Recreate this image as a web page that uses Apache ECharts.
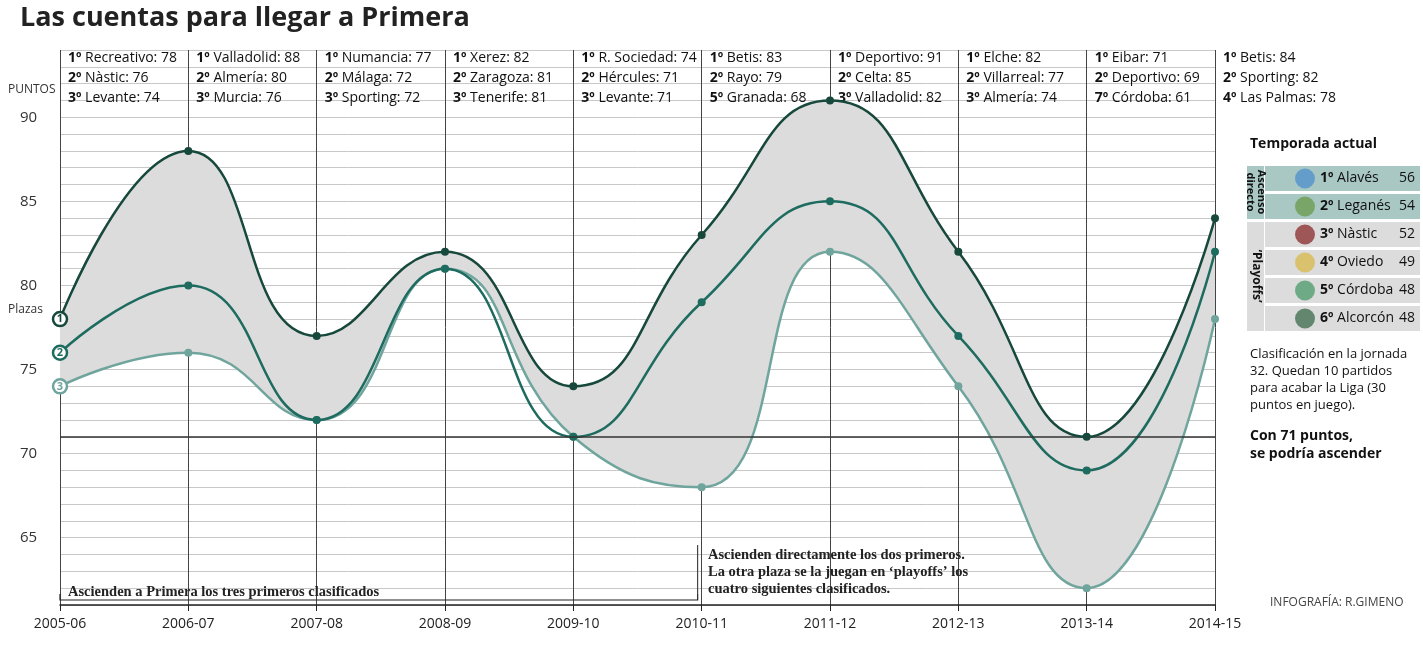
<!DOCTYPE html>
<html><head><meta charset="utf-8">
<script src="https://cdn.jsdelivr.net/npm/echarts@6/dist/echarts.min.js"></script>
<style>body{margin:0;background:#fff}#chart{width:1423px;height:658px}</style>
</head><body><div id="chart"></div>
<script>
var seasons = ['2005-06','2006-07','2007-08','2008-09','2009-10','2010-11','2011-12','2012-13','2013-14','2014-15'];
var first = [78,88,77,82,74,83,91,82,71,84];
var second = [76,80,72,81,71,79,85,77,69,82];
var third = [74,76,72,81,71,68,82,74,62,78];
var topLabels = [
  ['1º Recreativo: 78','2º Nàstic: 76','3º Levante: 74'],
  ['1º Valladolid: 88','2º Almería: 80','3º Murcia: 76'],
  ['1º Numancia: 77','2º Málaga: 72','3º Sporting: 72'],
  ['1º Xerez: 82','2º Zaragoza: 81','3º Tenerife: 81'],
  ['1º R. Sociedad: 74','2º Hércules: 71','3º Levante: 71'],
  ['1º Betis: 83','2º Rayo: 79','5º Granada: 68'],
  ['1º Deportivo: 91','2º Celta: 85','3º Valladolid: 82'],
  ['1º Elche: 82','2º Villarreal: 77','3º Almería: 74'],
  ['1º Eibar: 71','2º Deportivo: 69','7º Córdoba: 61'],
  ['1º Betis: 84','2º Sporting: 82','4º Las Palmas: 78']
];
var standTeams = ['Alavés','Leganés','Nàstic','Oviedo','Córdoba','Alcorcón'];
var standPts = [56,54,52,49,48,48];
var threshold = 71;

var diff = first.map(function (v, i) { return v - third[i]; });
var F = '"Open Sans", sans-serif';
var chart = echarts.init(document.getElementById('chart'));
chart.setOption({
  animation: false,
  grid: {left: 60, right: 208, top: 50, bottom: 53},
  xAxis: {
    type: 'category', data: seasons, boundaryGap: false,
    axisLine: {lineStyle: {color: '#222', width: 1.5}}, axisTick: {show: true, length: 6, lineStyle: {color: '#222'}},
    axisLabel: {color: '#222', fontSize: 14, fontFamily: F, margin: 12},
    splitLine: {show: true, lineStyle: {color: '#444', width: 1}}
  },
  yAxis: {
    type: 'value', min: 61, max: 94, interval: 1,
    axisLine: {show: false}, axisTick: {show: false},
    axisLabel: {color: '#333', fontSize: 15, fontFamily: F, margin: 40, align: 'left',
      formatter: function (v) { return (v % 5 === 0 && v < 91) ? v : ''; }},
    splitLine: {lineStyle: {color: '#c8c8c8', width: 1}}
  },
  series: [
    {type: 'line', data: third, stack: 'a', smooth: 0.5, symbol: 'none', lineStyle: {opacity: 0}, z: 1},
    {type: 'line', data: diff, stack: 'a', smooth: 0.5, symbol: 'none', lineStyle: {opacity: 0},
      areaStyle: {color: '#dcdcdc', opacity: 1}, z: 1},
    {type: 'line', data: third, smooth: 0.5, symbol: 'circle', symbolSize: 8,
      itemStyle: {color: '#6fa59d'}, lineStyle: {color: '#6fa59d', width: 2.5}, z: 3},
    {type: 'line', data: second, smooth: 0.5, symbol: 'circle', symbolSize: 8,
      itemStyle: {color: '#1e6b60'}, lineStyle: {color: '#1e6b60', width: 2.5}, z: 4},
    {type: 'line', data: first, smooth: 0.5, symbol: 'circle', symbolSize: 8,
      itemStyle: {color: '#17483c'}, lineStyle: {color: '#17483c', width: 2.5}, z: 5,
      markLine: {silent: true, symbol: 'none', label: {show: false},
        lineStyle: {color: '#333', width: 1.5, type: 'solid'}, data: [{yAxis: threshold}]}}
  ]
});

var g = [];
g.push({type: 'text', left: 20, top: 5, style: {text: 'Las cuentas para llegar a Primera', font: 'bold 27px ' + F, fill: '#222'}});
g.push({type: 'text', left: 8, top: 84, style: {text: 'PUNTOS', font: '12px ' + F, fill: '#333'}});
seasons.forEach(function (s, i) {
  var p = chart.convertToPixel({xAxisIndex: 0, yAxisIndex: 0}, [i, 90]);
  topLabels[i].forEach(function (t, j) {
    g.push({type: 'text', x: p[0] + 8, y: 51 + j * 20, style: {
      text: '{b|' + t.slice(0, 2) + '} ' + t.slice(3),
      rich: {b: {font: 'bold 14px ' + F, fill: '#111'}}, font: '14px ' + F, fill: '#111'}});
  });
});
[[first, '1', '#17483c'], [second, '2', '#1e6b60'], [third, '3', '#6fa59d']].forEach(function (a) {
  var p = chart.convertToPixel({xAxisIndex: 0, yAxisIndex: 0}, [0, a[0][0]]);
  g.push({type: 'circle', shape: {cx: p[0], cy: p[1], r: 7}, style: {fill: '#fff', stroke: a[2], lineWidth: 2.5}, z: 20});
  g.push({type: 'text', x: p[0], y: p[1], style: {text: a[1], font: 'bold 11px ' + F, fill: a[2], align: 'center', verticalAlign: 'middle'}, z: 21});
});
g.push({type: 'text', x: 8, y: 304, style: {text: 'Plazas', font: '12px ' + F, fill: '#333'}});
g.push({type: 'text', x: 118, y: 236, style: {text: 'ZONA\nDE ASCENSO', font: 'bold 15px ' + F, fill: '#222', lineHeight: 18}});
var b0 = chart.convertToPixel({xAxisIndex: 0, yAxisIndex: 0}, [0, 61]);
var b5 = chart.convertToPixel({xAxisIndex: 0, yAxisIndex: 0}, [5, 61]);
g.push({type: 'polyline', shape: {points: [[b0[0], 594], [b0[0], 600], [b5[0] - 4, 600], [b5[0] - 4, 594]]}, style: {stroke: '#222', lineWidth: 1.2, fill: null}});
g.push({type: 'text', x: 68, y: 585, style: {text: 'Ascienden a Primera los tres primeros clasificados', font: 'bold 14.5px "Liberation Serif", serif', fill: '#222'}});
g.push({type: 'polyline', shape: {points: [[b5[0] - 4, 545], [b5[0] - 4, 594]]}, style: {stroke: '#222', lineWidth: 1, fill: null}});
g.push({type: 'text', x: 708, y: 547, style: {text: 'Ascienden directamente los dos primeros.\nLa otra plaza se la juegan en ‘playoffs’ los\ncuatro siguientes clasificados.', font: 'bold 14.5px "Liberation Serif", serif', fill: '#222', lineHeight: 17}});
g.push({type: 'text', x: 1270, y: 597, style: {text: 'INFOGRAFÍA: R.GIMENO', font: '12px ' + F, fill: '#444'}});
g.push({type: 'text', x: 1250, y: 427, style: {text: 'Con 71 puntos,\nse podría ascender', font: 'bold 14px ' + F, fill: '#111', lineHeight: 18}});
g.push({type: 'text', x: 1250, y: 137, style: {text: 'Temporada actual', font: 'bold 14px ' + F, fill: '#111'}});
standTeams.forEach(function (t, i) {
  var y = 166 + i * 28;
  g.push({type: 'rect', shape: {x: 1265, y: y, width: 155, height: 25}, style: {fill: i < 2 ? '#a9c8c4' : '#dcdcdc'}});
  g.push({type: 'circle', shape: {cx: 1305, cy: y + 12.5, r: 10}, style: {fill: ['#4f8fcc', '#6a9a4a', '#8a2a2a', '#d8b84a', '#4a9a6a', '#3a6a4a'][i], opacity: 0.75}});
  g.push({type: 'text', x: 1320, y: y + 5, style: {text: '{b|' + (i + 1) + 'º} ' + t, rich: {b: {font: 'bold 14px ' + F, fill: '#111'}}, font: '14px ' + F, fill: '#111'}});
  g.push({type: 'text', x: 1415, y: y + 5, style: {text: String(standPts[i]), font: '14px ' + F, fill: '#111', align: 'right'}});
});
g.push({type: 'rect', shape: {x: 1247, y: 166, width: 17, height: 53}, style: {fill: '#a9c8c4'}});
g.push({type: 'rect', shape: {x: 1247, y: 222, width: 17, height: 109}, style: {fill: '#dcdcdc'}});
g.push({type: 'text', x: 1256, y: 192, rotation: -Math.PI / 2, style: {text: 'Ascenso\ndirecto', font: 'bold 11px ' + F, fill: '#111', align: 'center', verticalAlign: 'middle', lineHeight: 11}});
g.push({type: 'text', x: 1256, y: 276, rotation: -Math.PI / 2, style: {text: '‘Playoffs’', font: 'bold 12px ' + F, fill: '#111', align: 'center', verticalAlign: 'middle'}});
g.push({type: 'text', x: 1250, y: 346, style: {text: 'Clasificación en la jornada\n32. Quedan 10 partidos\npara acabar la Liga (30\npuntos en juego).', font: '13px ' + F, fill: '#111', lineHeight: 17}});
chart.setOption({graphic: g});
</script></body></html>
